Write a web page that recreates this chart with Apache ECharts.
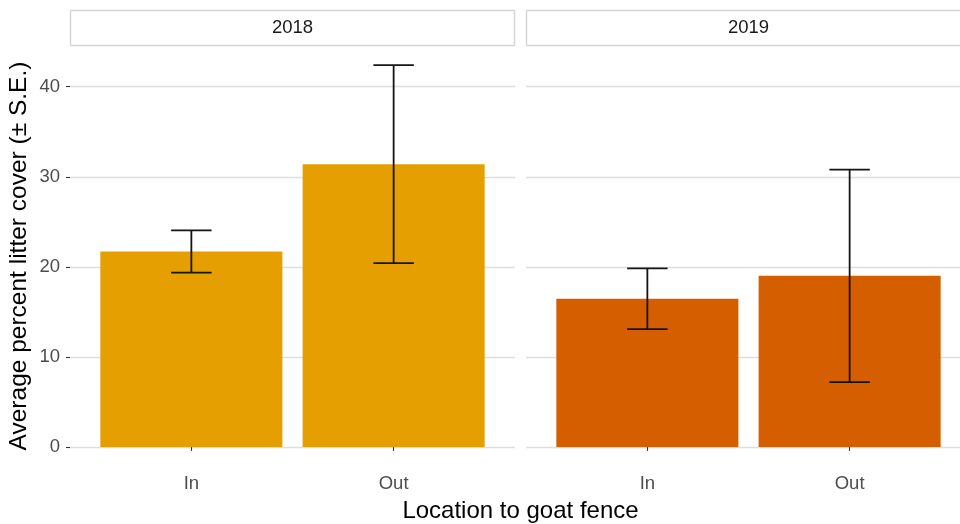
<!DOCTYPE html>
<html>
<head>
<meta charset="utf-8">
<script src="https://cdn.jsdelivr.net/npm/echarts@6/dist/echarts.min.js"></script>
<style>
  html, body { margin: 0; padding: 0; background: #ffffff; }
  #chart { width: 960px; height: 524px; }
</style>
</head>
<body>
<div id="chart"></div>
<script>
// Litter cover by location relative to the goat fence, one panel per year
const years = ['2018', '2019'];
const locations = ['In', 'Out'];
const mean2018 = [21.7, 31.4];
const se2018 = [2.35, 11.0];
const mean2019 = [16.45, 19.0];
const se2019 = [3.37, 11.8];
const yTicks = [0, 10, 20, 30, 40];
const yTitle = 'Average percent litter cover (± S.E.)';
const xTitle = 'Location to goat fence';
const yearColors = ['#E69F00', '#D55E00'];

const FONT = '"Liberation Sans", Arial, Helvetica, sans-serif';
const canvasWidth = 960;
const panelLeft = [70, 526];
const panelWidth = 445;
const panelTop = 46;
const panelHeight = 420;
const xMin = 0.4, xMax = 2.6;
const unitPx = panelWidth / (xMax - xMin);
const barPx = unitPx * 0.9;

const means = [mean2018, mean2019];
const ses = [se2018, se2019];
const dataTop = Math.max(...means.flatMap((m, i) => m.map((v, j) => v + ses[i][j])));
const pad = dataTop * 0.05;

const chart = echarts.init(document.getElementById('chart'), null, { renderer: 'canvas' });

function renderErrorBar(params, api) {
  const x = api.value(0);
  const lo = api.coord([x, api.value(1)]);
  const hi = api.coord([x, api.value(2)]);
  const half = api.size([0.1, 0])[0];
  const style = { stroke: '#141414', lineWidth: 1.8, fill: null };
  return {
    type: 'group',
    children: [
      { type: 'line', shape: { x1: lo[0], y1: lo[1], x2: hi[0], y2: hi[1] }, style },
      { type: 'line', shape: { x1: hi[0] - half, y1: hi[1], x2: hi[0] + half, y2: hi[1] }, style },
      { type: 'line', shape: { x1: lo[0] - half, y1: lo[1], x2: lo[0] + half, y2: lo[1] }, style }
    ]
  };
}

// the second panel runs past the right edge of the page: keep only its visible part
const visibleWidth = panelLeft.map(l => Math.min(panelWidth, canvasWidth - l));
const visibleMax = visibleWidth.map(w => xMin + w / unitPx);

const grids = years.map((_, i) => ({
  left: panelLeft[i], top: panelTop, width: visibleWidth[i], height: panelHeight, containLabel: false
}));

const xAxes = years.map((_, i) => ({
  type: 'value', gridIndex: i, min: xMin, max: visibleMax[i],
  axisLine: { show: false },
  splitLine: { show: false },
  axisTick: { show: true, customValues: locations.map((_, j) => j + 1), length: 4,
              lineStyle: { color: '#333333', width: 1.1 } },
  axisLabel: { show: true, customValues: locations.map((_, j) => j + 1), margin: 8,
               formatter: v => locations[Math.round(v) - 1], color: '#4d4d4d',
               fontSize: 18.5, fontFamily: FONT }
}));

const yAxes = years.map((_, i) => ({
  type: 'value', gridIndex: i, min: -pad, max: dataTop + pad,
  axisLine: { show: false },
  splitLine: { show: true, lineStyle: { color: '#dedede', width: 1.3 } },
  axisTick: { show: i === 0, customValues: yTicks, length: 4,
              lineStyle: { color: '#333333', width: 1.1 } },
  axisLabel: { show: i === 0, customValues: yTicks, margin: 10, color: '#4d4d4d',
               fontSize: 18.5, fontFamily: FONT },
  name: i === 0 ? yTitle : '',
  nameLocation: 'middle', nameRotate: 90, nameGap: 38,
  nameTextStyle: { color: '#000000', fontSize: 24.5, fontFamily: FONT }
}));

const series = [];
years.forEach((_, i) => {
  series.push({
    type: 'bar', xAxisIndex: i, yAxisIndex: i, barWidth: barPx,
    itemStyle: { color: yearColors[i] },
    silent: true,
    data: locations.map((_, j) => [j + 1, means[i][j]])
  });
  series.push({
    type: 'custom', xAxisIndex: i, yAxisIndex: i, silent: true,
    renderItem: renderErrorBar,
    encode: { x: 0, y: [1, 2] },
    data: locations.map((_, j) => [j + 1, means[i][j] - ses[i][j], means[i][j] + ses[i][j]]),
    z: 3
  });
});

// facet strips and the shared x-axis title
const graphics = years.map((yr, i) => ({
  type: 'group',
  children: [
    { type: 'rect', shape: { x: panelLeft[i] + 0.5, y: 10.5, width: panelWidth - 1, height: 35 },
      style: { fill: '#ffffff', stroke: '#d6d6d6', lineWidth: 1.5 } },
    { type: 'text', x: panelLeft[i] + panelWidth / 2, y: 28,
      style: { text: yr, fill: '#1a1a1a', fontSize: 18.5, fontFamily: FONT,
               align: 'center', verticalAlign: 'middle' } }
  ]
}));
graphics.push({
  type: 'text', x: (panelLeft[0] + panelLeft[1] + panelWidth) / 2, y: 511,
  style: { text: xTitle, fill: '#000000', fontSize: 24, fontFamily: FONT,
           align: 'center', verticalAlign: 'middle' }
});

chart.setOption({
  animation: false,
  backgroundColor: '#ffffff',
  grid: grids,
  xAxis: xAxes,
  yAxis: yAxes,
  series: series,
  graphic: graphics
});
</script>
</body>
</html>
